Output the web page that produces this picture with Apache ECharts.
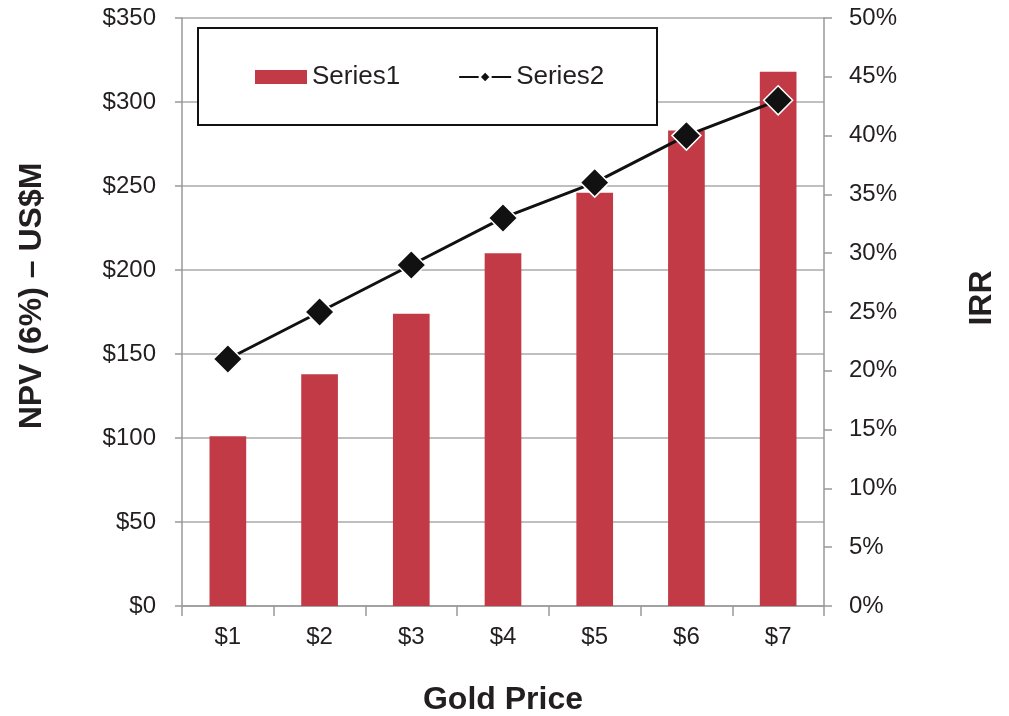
<!DOCTYPE html>
<html><head><meta charset="utf-8">
<script src="https://cdn.jsdelivr.net/npm/echarts@6/dist/echarts.min.js"></script>
<style>html,body{margin:0;padding:0;background:#fff}#c{width:1009px;height:716px}</style>
</head><body><div id="c"></div>
<script>
const categories = ['$1','$2','$3','$4','$5','$6','$7'];
const npv = [101, 138, 174, 210, 246, 283, 318];
const irr = [21, 25, 29, 33, 36, 40, 43];
const seriesNames = ['Series1','Series2'];
const leftTitle = 'NPV (6%) – US$M';
const rightTitle = 'IRR';
const xTitle = 'Gold Price';

const FONT = '"Liberation Sans", Arial, sans-serif';
const TXT = '#231f20';
const chart = echarts.init(document.getElementById('c'));
chart.setOption({
  animation: false,
  textStyle: {fontFamily: FONT, color: TXT},
  grid: {left: 182, right: 185, top: 18, height: 588, containLabel: false, outerBoundsMode: 'none'},
  graphic: [
    {type:'rect', left:197, top:27, shape:{width:459, height:97}, style:{fill:'#fff', stroke:'#111', lineWidth:2}, z:5},
    {type:'text', x:32, y:296, rotation:Math.PI/2, style:{text:leftTitle, font:'bold 32px ' + FONT, fill:TXT, align:'center', verticalAlign:'middle'}},
    {type:'text', x:982, y:298, rotation:Math.PI/2, style:{text:rightTitle, font:'bold 32px ' + FONT, fill:TXT, align:'center', verticalAlign:'middle'}}
  ],
  legend: {
    left: 250, top: 59, z: 10,
    itemWidth: 52, itemHeight: 14, itemGap: 58,
    textStyle: {fontSize: 26, color: TXT, fontFamily: FONT},
    data: [{name: seriesNames[0], icon: 'rect'}, {name: seriesNames[1]}]
  },
  xAxis: {
    type: 'category', data: categories,
    name: xTitle, nameLocation: 'middle', nameGap: 78,
    nameTextStyle: {fontSize: 32, fontWeight: 'bold', color: TXT},
    axisLine: {lineStyle: {color: '#999', width: 1.5}},
    axisTick: {show: true, alignWithLabel: false, length: 10, lineStyle: {color: '#999', width: 1.5}},
    axisLabel: {fontSize: 24, color: TXT, margin: 19}
  },
  yAxis: [{
    type: 'value', min: 0, max: 350, interval: 50,
    axisLine: {show: true, lineStyle: {color: '#999', width: 1.5}},
    axisTick: {show: true, length: 7, lineStyle: {color: '#999', width: 1.5}},
    axisLabel: {formatter: '${value}', fontSize: 24, color: TXT, margin: 26},
    splitLine: {lineStyle: {color: '#aaa', width: 1.5}}
  }, {
    type: 'value', min: 0, max: 50, interval: 5, position: 'right',
    axisLine: {show: true, lineStyle: {color: '#999', width: 1.5}},
    axisTick: {show: true, length: 8, lineStyle: {color: '#999', width: 1.5}},
    axisLabel: {formatter: '{value}%', fontSize: 24, color: TXT, margin: 25},
    splitLine: {show: false}
  }],
  series: [{
    name: seriesNames[0], type: 'bar', data: npv, barWidth: '40%',
    itemStyle: {color: '#c33a47'}
  }, {
    name: seriesNames[1], type: 'line', yAxisIndex: 1, data: irr,
    symbol: 'diamond', symbolSize: 29,
    lineStyle: {color: '#111', width: 3},
    itemStyle: {color: '#111', borderColor: '#fff', borderWidth: 1.5},
    z: 3
  }]
});
</script></body></html>
